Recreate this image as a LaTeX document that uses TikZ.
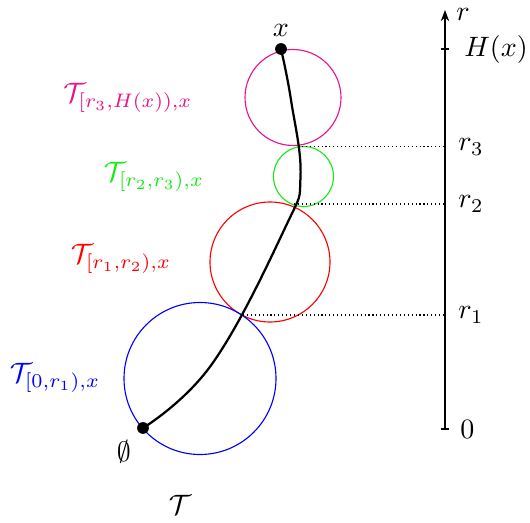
\documentclass[tikz,border=0pt]{standalone}
\usetikzlibrary{arrows.meta}
\definecolor{mag}{RGB}{232,20,140}
\definecolor{grn}{RGB}{20,235,20}
\begin{document}
\begin{tikzpicture}[x=0.357pt,y=-0.357pt,
  ring/.style={line width=0.4pt},
  lvl/.style={densely dotted,line width=0.4pt},
  dot/.style={circle,fill=black,inner sep=0pt,minimum size=4.2pt},
  lab/.style={inner sep=1pt},
  tk/.style={line width=0.5pt}]
\useasboundingbox (0,0) rectangle (530,523);
% circles
\draw[ring,mag] (293,97.5) circle[radius=48];
\draw[ring,grn] (303.5,176.5) circle[radius=30];
\draw[ring,red] (270,262) circle[radius=60];
\draw[ring,blue] (200,378.5) circle[radius=76];
% axis
\coordinate (a0) at (445,429);
\coordinate (atop) at (445,10);
\draw[tk,-{Stealth[length=4pt,width=3pt]}] (a0) -- (atop);
\draw[tk] (441,429) -- (449,429);
\draw[tk] (441,49) -- (449,49);
\node[lab,anchor=west] (rl) at (453,14) {$r$};
\node[lab,anchor=west] (hl) at (461,49) {$H(x)$};
\node[lab,anchor=west] (r3l) at (455,147) {$r_3$};
\node[lab,anchor=west] (r2l) at (455,204) {$r_2$};
\node[lab,anchor=west] (r1l) at (455,315) {$r_1$};
\node[lab,anchor=west] (zl) at (457,429) {$0$};
% levels
\coordinate (p3) at (298,146.5);
\coordinate (p2) at (294,204);
\coordinate (p1) at (243,315);
\coordinate (q3) at (445,146.5);
\coordinate (q2) at (445,204);
\coordinate (q1) at (445,315);
\draw[lvl] (p3) -- (q3);
\draw[lvl] (p2) -- (q2);
\draw[lvl] (p1) -- (q1);
% path
\node[dot] (e) at (143,428) {};
\node[dot] (x) at (281,49) {};
\coordinate (c2) at (212,364);
\coordinate (c4) at (285,228);
\coordinate (c5) at (300.5,177);
\coordinate (c6) at (291,100);
\draw[line width=0.8pt] plot[smooth,tension=0.7] coordinates {(e) (c2) (c4) (c5) (c6) (x)};
\node[lab] (xl) at (281,30) {$x$};
\node[lab] (el) at (124,452) {$\emptyset$};
\node[lab] (tl) at (180,505) {$\Large\mathcal{T}$};
% labels
\node[lab,mag] (l3) at (128,98) {$\Large\mathcal{T}_{\normalsize[r_3,H(x)),x}$};
\node[lab,grn] (l2) at (154,177) {$\Large\mathcal{T}_{\normalsize[r_2,r_3),x}$};
\node[lab,red] (l1) at (121,259) {$\Large\mathcal{T}_{\normalsize[r_1,r_2),x}$};
\node[lab,blue] (l0) at (55,378) {$\Large\mathcal{T}_{\normalsize[0,r_1),x}$};
\end{tikzpicture}
\end{document}
